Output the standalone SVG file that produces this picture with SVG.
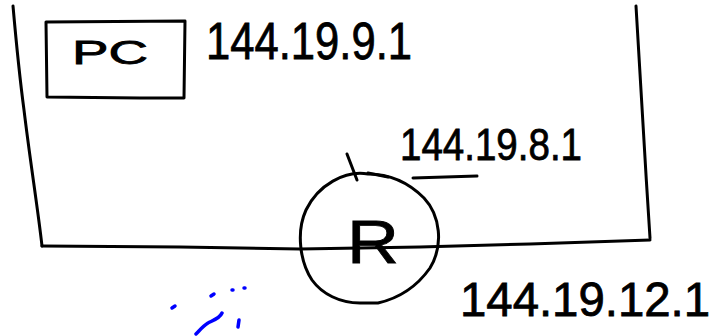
<svg xmlns="http://www.w3.org/2000/svg" width="725" height="336" viewBox="0 0 725 336">
<style>
.ink{fill:none;stroke:#000;stroke-width:3;stroke-linecap:round;stroke-linejoin:round}
.blue{fill:none;stroke:#0000ff;stroke-width:3.5;stroke-linecap:round;stroke-linejoin:round}
.t{font-family:"Liberation Sans","DejaVu Sans",sans-serif;fill:#000;stroke:#000;stroke-width:0.8}
</style>
<rect width="725" height="336" fill="#fff"/>
<g id="network-outline">
<path class="ink" d="M13,6 C16,40 20,80 24,110 C30,160 38,210 42,246"/>
<path class="ink" d="M42,246 L180,247 L300,249 L420,247 L530,244 L650,240"/>
<path class="ink" d="M636,6 C640,80 645,160 650,238"/>
</g>
<g id="pc">
<path class="ink" d="M46,22 L185,21 L184,98 L140,98 L47,97 Z"/>
<text class="t" x="72" y="64" font-size="34" textLength="76" lengthAdjust="spacingAndGlyphs">PC</text>
</g>
<g id="router">
<path class="ink" d="M368,174 C345,170 318,185 306,210 C296,232 300,262 312,280 C322,294 340,303 360,303 L378,303 C400,298 418,285 430,268 C444,245 440,215 424,198 C410,184 392,174 368,174 Z"/>
<path class="ink" d="M347,154 L357,180"/>
<path class="ink" d="M368,173 L388,177" stroke-width="4"/>
<text class="t" x="347" y="263" font-size="62" textLength="52" lengthAdjust="spacingAndGlyphs">R</text>
</g>
<g id="labels">
<text class="t" x="206" y="59" font-size="52" textLength="206" lengthAdjust="spacingAndGlyphs">144.19.9.1</text>
<text class="t" x="400" y="160" font-size="44" textLength="182" lengthAdjust="spacingAndGlyphs">144.19.8.1</text>
<path class="ink" d="M413,178 L477,176"/>
<text class="t" x="460" y="316" font-size="48" textLength="250" lengthAdjust="spacingAndGlyphs">144.19.12.1</text>
</g>
<g id="scribble">
<path class="blue" d="M172,308 L175,306"/>
<path class="blue" d="M211,296 L214,294"/>
<path class="blue" d="M232,290 L233,290"/>
<path class="blue" d="M244,288 L245,288"/>
<path class="blue" d="M222,313 C220,318 214,320 208,323 C203,326 200,330 196,334"/>
<path class="blue" d="M239,320 L238,327"/>
</g>
</svg>
